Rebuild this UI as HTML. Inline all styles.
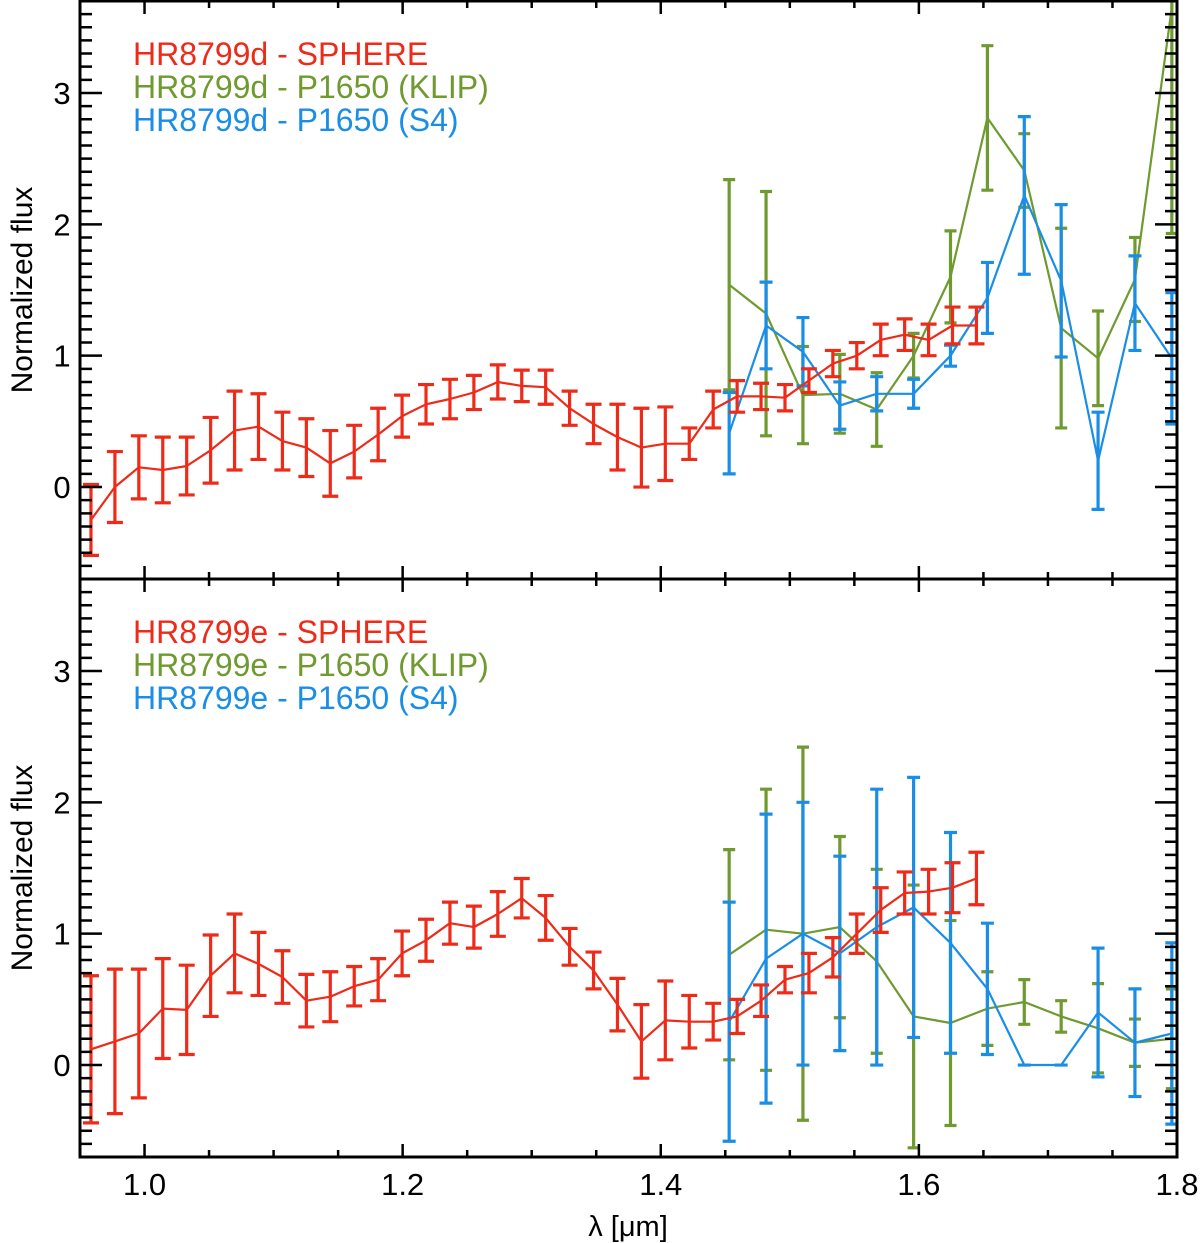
<!DOCTYPE html>
<html><head><meta charset="utf-8"><style>
html,body{margin:0;padding:0;background:#fff;}
svg{display:block;font-family:"Liberation Sans",sans-serif;}
</style></head><body>
<svg id="chart" width="1200" height="1243" viewBox="0 0 1200 1243" xmlns="http://www.w3.org/2000/svg"></svg>
<script>
// ---- data ----
const sphereX0 = 0.9585, sphereX1 = 1.6446; // 38 channels, evenly spaced
const p1650X0 = 1.453, p1650X1 = 1.796;     // 13 channels
const dSphereVal = [-0.25,0.0,0.15,0.13,0.16,0.28,0.43,0.46,0.35,0.30,0.18,0.27,0.40,0.54,0.63,0.67,0.72,0.80,0.77,0.76,0.60,0.48,0.38,0.30,0.33,0.33,0.59,0.69,0.69,0.68,0.81,0.94,1.00,1.12,1.16,1.12,1.23,1.23];
const dSphereErr = [0.27,0.27,0.24,0.25,0.22,0.25,0.30,0.25,0.22,0.22,0.25,0.20,0.20,0.16,0.15,0.15,0.13,0.13,0.12,0.13,0.13,0.15,0.25,0.30,0.28,0.12,0.14,0.12,0.10,0.10,0.09,0.10,0.10,0.12,0.12,0.12,0.14,0.14];
const dKlipVal = [1.54,1.32,0.70,0.71,0.59,1.00,1.60,2.81,2.41,1.21,0.98,1.58,3.65];
const dKlipErr = [0.80,0.93,0.37,0.30,0.28,0.17,0.35,0.55,0.28,0.76,0.36,0.32,1.72];
const dS4Val = [0.41,1.23,1.03,0.62,0.71,0.71,1.00,1.44,2.22,1.57,0.20,1.40,0.98];
const dS4Err = [0.31,0.33,0.26,0.18,0.13,0.11,0.08,0.27,0.60,0.58,0.37,0.36,0.50];
const eSphereVal = [0.12,0.18,0.24,0.43,0.42,0.68,0.85,0.77,0.67,0.49,0.52,0.60,0.65,0.85,0.95,1.08,1.05,1.15,1.27,1.12,0.90,0.72,0.46,0.18,0.34,0.33,0.33,0.37,0.49,0.65,0.70,0.82,1.00,1.18,1.31,1.32,1.35,1.42];
const eSphereErr = [0.56,0.55,0.49,0.38,0.34,0.31,0.30,0.24,0.20,0.20,0.19,0.15,0.16,0.17,0.16,0.16,0.16,0.17,0.15,0.17,0.14,0.14,0.20,0.28,0.30,0.20,0.14,0.13,0.12,0.10,0.15,0.15,0.15,0.17,0.16,0.17,0.19,0.20];
const eKlipVal = [0.84,1.03,1.00,1.05,0.79,0.37,0.32,0.43,0.48,0.37,0.28,0.17,0.20];
const eKlipErr = [0.80,1.07,1.42,0.69,0.70,1.00,0.78,0.28,0.17,0.12,0.34,0.18,0.38];
const eS4Val = [0.33,0.81,1.00,0.85,1.05,1.20,0.93,0.58,0.0,0.0,0.40,0.17,0.24];
const eS4Err = [0.91,1.10,1.00,0.74,1.05,0.99,0.84,0.50,0.0,0.0,0.49,0.41,0.69];
const xTicks = [1.0,1.2,1.4,1.6,1.8];
const xTickLabels = ["1.0","1.2","1.4","1.6","1.8"];
const yTicks = [0,1,2,3];
const yTickLabels = ["0","1","2","3"];

// ---- layout ----
const L=80,R=1177,XMIN=0.95,XMAX=1.8,YMIN=-0.7,YMAX=3.7;
const panels=[{top:1,bot:579,name:'d'},{top:579,bot:1157,name:'e'}];
const RED='#ee2a18',GREEN='#6e9a30',BLUE='#1a8ee6';
const NS='http://www.w3.org/2000/svg';
const svg=document.getElementById('chart');
function xs(v){return L+(v-XMIN)/(XMAX-XMIN)*(R-L);}
function mk(tag,attrs,parent){const e=document.createElementNS(NS,tag);for(const k in attrs)e.setAttribute(k,attrs[k]);(parent||svg).appendChild(e);return e;}
function lin(a,b,n){const o=[];for(let i=0;i<n;i++)o.push(a+(b-a)*i/(n-1));return o;}

panels.forEach((p,pi)=>{
  const ys=v=>p.bot-(v-YMIN)/(YMAX-YMIN)*(p.bot-p.top);
  const g=mk('g',{});
  
  
  const clipId='clip'+pi;
  const cp=mk('clipPath',{id:clipId},g);
  mk('rect',{x:L,y:p.top,width:R-L,height:p.bot-p.top},cp);
  const sx=lin(sphereX0,sphereX1,38), px=lin(p1650X0,p1650X1,13);
  const sets = pi===0
    ? [[px,dKlipVal,dKlipErr,GREEN,'klip',12],[px,dS4Val,dS4Err,BLUE,'s4',13],[sx,dSphereVal,dSphereErr,RED,'sphere',16]]
    : [[px,eKlipVal,eKlipErr,GREEN,'klip',12],[px,eS4Val,eS4Err,BLUE,'s4',13],[sx,eSphereVal,eSphereErr,RED,'sphere',16]];
  sets.forEach(s=>{
    const [X,V,E,col,nm,cw]=s;
    const sg=mk('g',{'clip-path':'url(#'+clipId+')'},g);
    
    
    const pts=X.map((x,i)=>xs(x).toFixed(1)+','+ys(V[i]).toFixed(1)).join(' ');
    const pl=mk('polyline',{points:pts,fill:'none',stroke:col,'stroke-width':2.2,'stroke-linejoin':'round'},sg);
    
    
    X.forEach((x,i)=>{
      const cx=xs(x),y1=ys(V[i]+E[i]),y2=ys(V[i]-E[i]);
      const eb=mk('path',{d:`M${cx},${y1}V${y2}M${cx-cw/2},${y1}H${cx+cw/2}M${cx-cw/2},${y2}H${cx+cw/2}`,stroke:col,'stroke-width':3.2,fill:'none'},sg);
      
      
    });
  });
  const ax=mk('rect',{x:L,y:p.top,width:R-L,height:p.bot-p.top,fill:'none',stroke:'#000','stroke-width':3},g);
  
  
  let d='';
  for(let k=-7;k<=37;k++){const v=k/10,y=ys(v);if(y<=p.top+1||y>=p.bot-1)continue;const len=(k%10===0)?22:12;d+=`M${L},${y}h${len}M${R},${y}h${-len}`;}
  for(let k=19;k<=36;k++){const v=k*0.05,x=xs(v);if(x<=L+1||x>=R-1)continue;const len=(k%4===0)?13:7;d+=`M${x},${p.bot}v${-len}M${x},${p.top}v${len}`;}
  const tk=mk('path',{d:d,stroke:'#000','stroke-width':2.5,fill:'none'},g);
  
  
  yTicks.forEach((v,i)=>{
    const t=mk('text',{x:62,y:ys(v)+11,'font-size':31,'text-anchor':'middle'},g);
    t.textContent=yTickLabels[i];
    
    
  });
  const yt=mk('text',{transform:`translate(32,${(p.top+p.bot)/2}) rotate(-90)`,'font-size':30,'text-anchor':'middle'},g);
  yt.textContent='Normalized flux';
  
  
  const obj=p.name==='d'?'HR8799d':'HR8799e';
  const base=p.top+64;
  [[' - SPHERE',RED],[' - P1650 (KLIP)',GREEN],[' - P1650 (S4)',BLUE]].forEach((l,i)=>{
    const t=mk('text',{x:133,y:base+i*33,'font-size':32,fill:l[1]},g);
    t.textContent=obj+l[0];
    
    
  });
});
xTicks.forEach((v,i)=>{
  const t=mk('text',{x:xs(v),y:1195,'font-size':31,'text-anchor':'middle'});
  t.textContent=xTickLabels[i];
  
  
});
const xt=mk('text',{x:628,y:1236,'font-size':29,'text-anchor':'middle'});
xt.textContent='λ [μm]';


</script>
</body></html>
